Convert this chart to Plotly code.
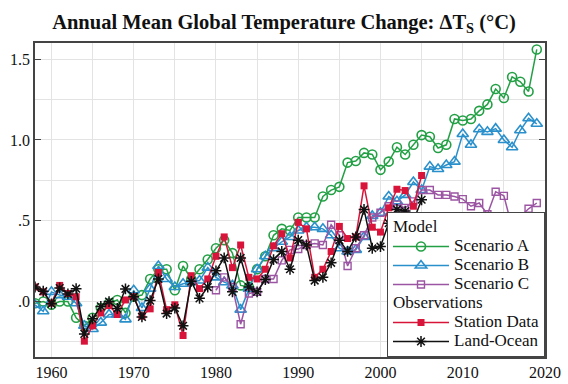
import plotly.graph_objects as go

years_a = list(range(1958, 2020))
scenario_a = [-0.01, 0.00, -0.02, 0.00, 0.00, -0.10, -0.15, -0.10, -0.04, -0.01,
              0.01, -0.07, 0.03, 0.04, 0.14, 0.20, 0.20, 0.07, 0.22, 0.14,
              0.20, 0.26, 0.33, 0.38, 0.30, 0.10, 0.09, 0.20, 0.28, 0.41,
              0.45, 0.44, 0.52, 0.52, 0.52, 0.65, 0.69, 0.71, 0.86, 0.87,
              0.92, 0.91, 0.815, 0.866, 0.955, 0.91, 0.97, 1.03, 1.02, 0.95,
              0.97, 1.13, 1.12, 1.13, 1.18, 1.22, 1.315, 1.26, 1.39, 1.36,
              1.30, 1.56]

years_b = list(range(1958, 2020))
scenario_b = [-0.02, -0.06, 0.06, 0.04, 0.03, -0.01, -0.15, -0.17, -0.13, -0.08,
              -0.08, -0.11, 0.07, -0.04, 0.08, 0.22, 0.14, 0.09, 0.11, 0.12,
              0.13, 0.21, 0.15, 0.12, 0.10, -0.05, 0.08, 0.20, 0.28, 0.33,
              0.37, 0.40, 0.44, 0.46, 0.46, 0.45, 0.41, 0.33, 0.31, 0.32,
              0.40, 0.53, 0.55, 0.65, 0.62, 0.66, 0.74, 0.69, 0.835, 0.82,
              0.845, 0.866, 1.037, 0.97, 1.066, 1.05, 1.07, 1.00, 0.955, 1.06,
              1.134, 1.10]

years_c = list(range(1980, 2020))
scenario_c = [0.07, 0.15, 0.09, -0.14, 0.05, 0.06, 0.14, 0.14, 0.255, 0.32,
              0.325, 0.35, 0.36, 0.35, 0.475, 0.41, 0.22, 0.33, 0.41, 0.52,
              0.55, 0.59, 0.60, 0.58, 0.62, 0.69, 0.69, 0.66, 0.66, 0.65,
              0.634, 0.59, 0.61, 0.54, 0.68, 0.654, 0.46, 0.527, 0.574, 0.61]

years_obs = list(range(1958, 2006))
station_data = [0.09, 0.06, -0.01, 0.10, 0.05, 0.03, -0.245, -0.15, -0.07, -0.025,
                -0.08, 0.01, 0.03, -0.09, -0.045, 0.18, -0.05, -0.02, -0.21, 0.16,
                0.08, 0.14, 0.28, 0.40, 0.21, 0.35, 0.15, 0.14, 0.20, 0.345,
                0.42, 0.27, 0.49, 0.45, 0.15, 0.20, 0.31, 0.465, 0.39, 0.40,
                0.716, 0.46, 0.43, 0.58, 0.695, 0.687, 0.59, 0.78]
land_ocean = [0.09, 0.064, -0.014, 0.084, 0.047, 0.08, -0.20, -0.107, -0.03, 0.0,
              -0.043, 0.078, 0.03, -0.095, 0.006, 0.14, -0.074, -0.04, -0.15, 0.125,
              0.02, 0.09, 0.19, 0.27, 0.06, 0.27, 0.09, 0.06, 0.136, 0.26,
              0.31, 0.20, 0.38, 0.35, 0.13, 0.15, 0.24, 0.38, 0.31, 0.40,
              0.57, 0.33, 0.34, 0.485, 0.57, 0.56, 0.50, 0.63]

y_tickvals = [0, 0.5, 1.0, 1.5]
y_ticktext = [".0", ".5", "1.0", "1.5"]

GREEN = "#23a045"
BLUE = "#2a90cc"
PURPLE = "#9b55a3"
RED = "#d8143a"
BLACK = "#111111"


def big(label):
    return '<span style="font-size:17px">' + label + '</span>'


fig = go.Figure()
fig.add_trace(go.Scatter(
    x=years_a, y=scenario_a, name=big("Scenario A"), mode="lines+markers",
    line=dict(color=GREEN, width=1.5),
    marker=dict(symbol="circle-open", size=9, color=GREEN, line=dict(width=1.6)),
    legendgroup="model", legendgrouptitle_text=big("Model")))
fig.add_trace(go.Scatter(
    x=years_b, y=scenario_b, name=big("Scenario B"), mode="lines+markers",
    line=dict(color=BLUE, width=1.5),
    marker=dict(symbol="triangle-up-open", size=10, color=BLUE, line=dict(width=1.6)),
    legendgroup="model"))
fig.add_trace(go.Scatter(
    x=years_c, y=scenario_c, name=big("Scenario C"), mode="lines+markers",
    line=dict(color=PURPLE, width=1.5),
    marker=dict(symbol="square-open", size=7, color=PURPLE, line=dict(width=1.4)),
    legendgroup="model"))
fig.add_trace(go.Scatter(
    x=years_obs, y=station_data, name=big("Station Data"), mode="lines+markers",
    line=dict(color=RED, width=1.5),
    marker=dict(symbol="square", size=7, color=RED),
    legendgroup="obs", legendgrouptitle_text=big("Observations")))
fig.add_trace(go.Scatter(
    x=years_obs, y=land_ocean, name=big("Land-Ocean"), mode="lines+markers",
    line=dict(color=BLACK, width=1.5),
    marker=dict(symbol="asterisk-open", size=9, color=BLACK, line=dict(width=1.5, color=BLACK)),
    legendgroup="obs"))

serif = "Liberation Serif"
grid = "#e3e3e3"
fig.update_layout(
    template="none",
    width=568, height=384,
    margin=dict(l=35, r=23, t=43, b=27),
    paper_bgcolor="white", plot_bgcolor="white",
    font=dict(family=serif, size=16, color="#111111"),
    title=dict(text="<b>Annual Mean Global Temperature Change: ΔT<sub>S</sub> (°C)</b>",
               x=0.5, xanchor="center", y=0.943, yanchor="middle",
               font=dict(family=serif, size=20.5, color="#111111")),
    showlegend=True,
    legend=dict(x=1, y=0, xanchor="right", yanchor="bottom",
                bgcolor="white", bordercolor="#444444", borderwidth=1,
                font=dict(family=serif, size=12, color="#111111"),
                tracegroupgap=0, itemwidth=56,
                grouptitlefont=dict(family=serif, size=12, color="#111111")),
    xaxis=dict(range=[1958, 2020], tickmode="linear", tick0=1960, dtick=10,
               showgrid=True, gridcolor=grid, gridwidth=1,
               minor=dict(tickmode="linear", tick0=1960, dtick=5, showgrid=True, gridcolor=grid),
               showline=True, linecolor="#444444", linewidth=1.5, mirror=True,
               ticks="", zeroline=False,
               tickfont=dict(family=serif, size=16, color="#111111")),
    yaxis=dict(range=[-0.343, 1.6], tickmode="array", tickvals=y_tickvals, ticktext=y_ticktext,
               showgrid=True, gridcolor=grid, gridwidth=1,
               minor=dict(tickmode="linear", tick0=0, dtick=0.25, showgrid=True, gridcolor=grid),
               showline=True, linecolor="#444444", linewidth=1.5, mirror="ticks",
               ticks="inside", ticklen=6, tickcolor="#444444", zeroline=False,
               tickfont=dict(family=serif, size=16, color="#111111")),
)

fig.write_html("out.html",
               config={"displayModeBar": False},
               post_script="document.body.style.margin='0px';document.body.style.overflow='hidden';")
